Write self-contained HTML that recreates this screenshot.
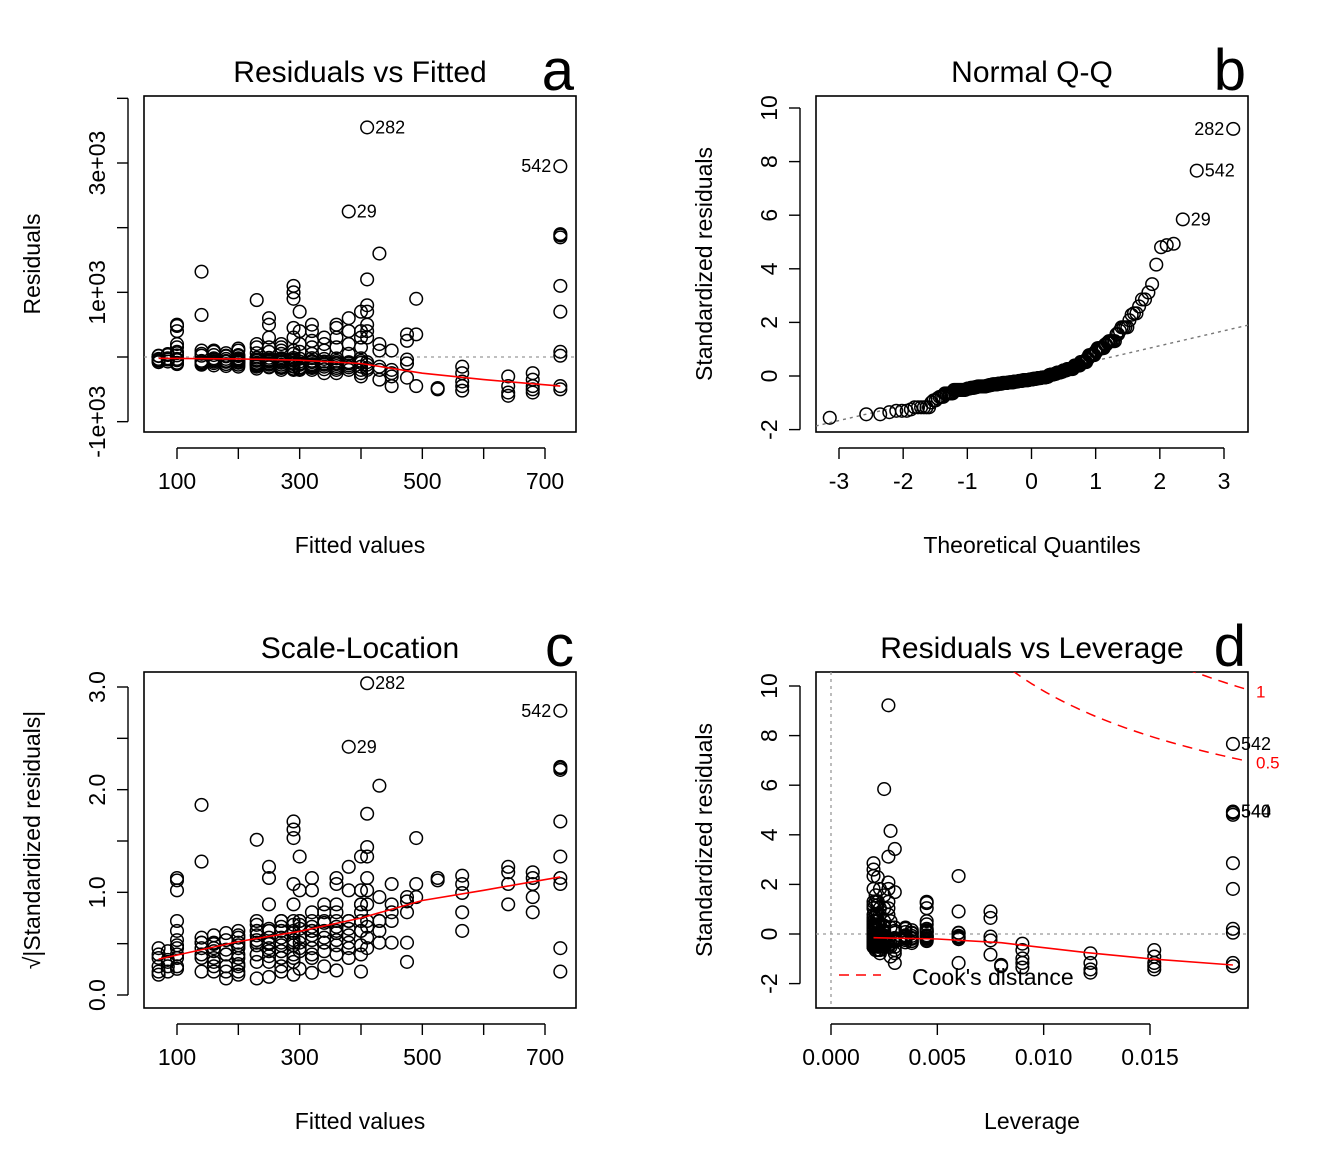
<!DOCTYPE html>
<html><head><meta charset="utf-8">
<style>
html,body{margin:0;padding:0;background:#fff;}
svg{display:block;font-family:"Liberation Sans",Arial,sans-serif;}
</style></head>
<body>
<svg id="chart" width="1344" height="1152" viewBox="0 0 1344 1152" xmlns="http://www.w3.org/2000/svg"></svg>
<script>
// ---- data ----
const groupFitted   = [70, 85, 100, 140, 160, 180, 200, 230, 250, 270, 290, 300, 320, 340, 360, 380, 400, 410, 430, 450, 475, 490, 525, 565, 640, 680, 725];
const groupLeverage = [0.006, 0.0045, 0.0045, 0.003, 0.0035, 0.0038, 0.0025, 0.0022, 0.0021, 0.002, 0.002, 0.002, 0.002, 0.0021, 0.0022, 0.0025, 0.0023, 0.0027, 0.0028, 0.003, 0.0075, 0.006, 0.008, 0.009, 0.0122, 0.0152, 0.0189];
const groupResiduals = [
 [-50,-80,20,15,-30,-60],
 [-40,30,-20,-70,45],
 [480,500,400,200,150,80,-30,-50,25,60,-90,-110],
 [1320,650,100,-60,-100,50,20,-120,-80],
 [100,80,-20,-70,30,-50,-130,-95,-40],
 [20,-30,-60,60,10,-110,-140,-75],
 [130,100,-80,-50,15,30,-20,-120,-150,-90,-60,-35],
 [880,200,150,-150,-100,60,-10,-130,-90,-60,-40,-180,-110],
 [600,500,300,150,-100,-150,-12,80,-70,-120,-40,-160,-95,-55],
 [200,150,100,-200,-150,50,-20,-50,-120,-90,-170,-70,-30],
 [1000,1100,900,450,300,100,-200,-150,-15,50,-110,-60,-180,-90,-140,-40],
 [700,400,200,-200,-180,80,-25,-120,-70,-160,-100],
 [500,400,250,150,-200,-150,-18,50,-80,-130,-60,-110,-170],
 [300,200,-250,-100,100,-30,-150,-70,-190,-120],
 [500,450,300,150,-250,-200,-22,-90,-140,-60,-170,-110],
 [2250,600,400,200,-200,-100,50,-160,-80,-130],
 [700,400,300,150,-300,-200,-20,-90,-150,-60,-250],
 [3550,1200,800,700,500,400,300,-200,-120,-170,-80],
 [1600,200,-200,-350,100,-150],
 [100,-200,-450,-300,-250],
 [350,250,-40,-100,-320],
 [900,350,-450],
 [-500,-480],
 [-150,-250,-380,-450,-520],
 [-300,-450,-550,-600],
 [-250,-350,-450,-500,-550],
 [2950,1900,1880,1850,1100,700,80,20,-450,-500]
];
const residualSD = 385;
const labeled = [{g:17,i:0,name:"282"},{g:26,i:0,name:"542"},{g:15,i:0,name:"29"}];
const smoothA_x = [70,200,300,400,500,600,725];
const smoothA_y = [-20,-30,-50,-100,-250,-350,-450];
const smoothC_x = [70,200,300,400,500,600,725];
const smoothC_y = [0.35,0.52,0.62,0.75,0.92,1.02,1.15];
const smoothD_x = [0.002,0.005,0.008,0.012,0.015,0.0189];
const smoothD_y = [-0.15,-0.2,-0.35,-0.75,-1.0,-1.25];
const cookLevels = [0.5, 1];
const cookP = 1.94;

// ---- helpers ----
const svg = document.getElementById('chart');
const NS = 'http://www.w3.org/2000/svg';
function mk(tag, attrs, parent){const e=document.createElementNS(NS,tag);for(const k in attrs)e.setAttribute(k,attrs[k]);(parent||svg).appendChild(e);return e;}
function txt(s, attrs, parent){const e=mk('text',attrs,parent);e.textContent=s;return e;}
function lin(d0,d1,r0,r1){return v=>r0+(v-d0)*(r1-r0)/(d1-d0);}

const pts=[];
groupFitted.forEach((f,g)=>groupResiduals[g].forEach((r,i)=>pts.push({f, r, h:groupLeverage[g], s:r/residualSD, g, i})));

function panel(name, box, title, letter, xlab, ylab){
  const g=mk('g',{});
  
  
  const r=mk('rect',{x:box.x0,y:box.y0,width:box.x1-box.x0,height:box.y1-box.y0,fill:'none',stroke:'#000','stroke-width':1.6},g);
  
  const t=txt(title,{x:(box.x0+box.x1)/2,y:box.y0-14,'text-anchor':'middle','font-size':30},g);
  
  const l=txt(letter,{x:box.x1-2,y:box.y0-6,'text-anchor':'end','font-size':58},g);
  
  const xl=txt(xlab,{x:(box.x0+box.x1)/2,y:box.y1+121,'text-anchor':'middle','font-size':23},g);
  
  const cy=(box.y0+box.y1)/2;
  const yl=txt(ylab,{x:box.x0-104,y:cy,'text-anchor':'middle','font-size':23,transform:`rotate(-90 ${box.x0-104} ${cy})`},g);
  
  return g;
}
function xAxis(g,box,sx,ticks,labels){
  const y=box.y1+16;
  const a=mk('line',{x1:sx(ticks[0]),x2:sx(ticks[ticks.length-1]),y1:y,y2:y,stroke:'#000','stroke-width':1.4},g);
  
  ticks.forEach((t,i)=>{mk('line',{x1:sx(t),x2:sx(t),y1:y,y2:y+11,stroke:'#000','stroke-width':1.4},g);
    if(labels[i]!==''){const e=txt(labels[i],{x:sx(t),y:box.y1+57,'text-anchor':'middle','font-size':23},g);
    }});
}
function yAxis(g,box,sy,ticks,labels){
  const x=box.x0-16;
  const a=mk('line',{y1:sy(ticks[0]),y2:sy(ticks[ticks.length-1]),x1:x,x2:x,stroke:'#000','stroke-width':1.4},g);
  
  ticks.forEach((t,i)=>{mk('line',{y1:sy(t),y2:sy(t),x1:x,x2:x-11,stroke:'#000','stroke-width':1.4},g);
    if(labels[i]!==''){const X=box.x0-39,Y=sy(t);const e=txt(labels[i],{x:X,y:Y,'text-anchor':'middle','font-size':23,transform:`rotate(-90 ${X} ${Y})`},g);
    }});
}
function clipFor(id,box){const c=mk('clipPath',{id});mk('rect',{x:box.x0,y:box.y0,width:box.x1-box.x0,height:box.y1-box.y0},c);return `url(#${id})`;}
function point(g,x,y){const c=mk('circle',{cx:x,cy:y,r:6.3,fill:'none',stroke:'#000','stroke-width':1.5},g);
  }
function pathFrom(xs,ys,sx,sy){return xs.map((x,i)=>(i?'L':'M')+sx(x).toFixed(1)+','+sy(ys[i]).toFixed(1)).join('');}
function label(g,x,y,s,anchor){const e=txt(s,{x,y:y+6,'font-size':18,'text-anchor':anchor||'start'},g);
  }

// ---- panel a ----
(function(){
  const box={x0:144,y0:96,x1:576,y1:432};
  const sx=lin(100,700,177,545), sy=lin(0,3000,357,163);
  const g=panel('panel-residuals-vs-fitted',box,'Residuals vs Fitted','a','Fitted values','Residuals');
  xAxis(g,box,sx,[100,200,300,400,500,600,700],['100','','300','','500','','700']);
  yAxis(g,box,sy,[-1000,0,1000,2000,3000,4000],['-1e+03','','1e+03','','3e+03','']);
  const cp=clipFor('ca',box);
  const h=mk('line',{x1:box.x0,x2:box.x1,y1:sy(0),y2:sy(0),stroke:'#999','stroke-dasharray':'3,4','stroke-width':1.3,'clip-path':cp},g);
  
  pts.forEach(p=>point(g,sx(p.f),sy(p.r)));
  const sm=mk('path',{d:pathFrom(smoothA_x,smoothA_y,sx,sy),fill:'none',stroke:'#f00','stroke-width':1.6},g);
  
  labeled.forEach(L=>{const f=groupFitted[L.g],r=groupResiduals[L.g][L.i];
    if(f>700) label(g,sx(f)-9,sy(r),L.name,'end'); else label(g,sx(f)+8,sy(r),L.name);});
})();

// ---- panel b ----
function qnorm(p){const a=[-39.69683028665376,220.9460984245205,-275.9285104469687,138.357751867269,-30.66479806614716,2.506628277459239],
 b=[-54.47609879822406,161.5858368580409,-155.6989798598866,66.80131188771972,-13.28068155288572],
 c=[-0.007784894002430293,-0.3223964580411365,-2.400758277161838,-2.549732539343734,4.374664141464968,2.938163982698783],
 d=[0.007784695709041462,0.3224671290700398,2.445134137142996,3.754408661907416];
 let q,r;if(p<0.02425){q=Math.sqrt(-2*Math.log(p));return (((((c[0]*q+c[1])*q+c[2])*q+c[3])*q+c[4])*q+c[5])/((((d[0]*q+d[1])*q+d[2])*q+d[3])*q+1);}
 if(p>1-0.02425){q=Math.sqrt(-2*Math.log(1-p));return -(((((c[0]*q+c[1])*q+c[2])*q+c[3])*q+c[4])*q+c[5])/((((d[0]*q+d[1])*q+d[2])*q+d[3])*q+1);}
 q=p-0.5;r=q*q;return (((((a[0]*r+a[1])*r+a[2])*r+a[3])*r+a[4])*r+a[5])*q/(((((b[0]*r+b[1])*r+b[2])*r+b[3])*r+b[4])*r+1);}
(function(){
  const box={x0:816,y0:96,x1:1248,y1:432};
  const sx=lin(-3,3,839,1224), sy=lin(0,10,376,108);
  const g=panel('panel-normal-qq',box,'Normal Q-Q','b','Theoretical Quantiles','Standardized residuals');
  xAxis(g,box,sx,[-3,-2,-1,0,1,2,3],['-3','-2','-1','0','1','2','3']);
  yAxis(g,box,sy,[-2,0,2,4,6,8,10],['-2','0','2','4','6','8','10']);
  const cp=clipFor('cb',box);
  const sorted=pts.slice().sort((a,b)=>a.s-b.s), n=sorted.length;
  // plotting positions scaled to the full sample size of the original model
  const nFull=600;
  const q1=sorted[Math.floor(n*0.25)].s, q3=sorted[Math.floor(n*0.75)].s, z=qnorm(0.75);
  const slope=(q3-q1)/(2*z), icpt=(q1+q3)/2;
  const ref=mk('line',{x1:sx(-4),y1:sy(icpt-4*slope),x2:sx(4),y2:sy(icpt+4*slope),stroke:'#777','stroke-dasharray':'3,4','stroke-width':1.4,'clip-path':cp},g);
  
  sorted.forEach((p,i)=>{const u=(i+0.5)/n;const pr=u<0.5? (0.5/nFull)+(u-0.5/n)*(0.5-0.5/nFull)/(0.5-0.5/n) : 1-((0.5/nFull)+((1-u)-0.5/n)*(0.5-0.5/nFull)/(0.5-0.5/n));
    p.q=qnorm(pr);point(g,sx(p.q),sy(p.s));});
  labeled.forEach(L=>{const p=sorted.find(o=>o.g===L.g&&o.i===L.i);
    if(L.name==='282') label(g,sx(p.q)-9,sy(p.s),L.name,'end'); else label(g,sx(p.q)+8,sy(p.s),L.name);});
})();

// ---- panel c ----
(function(){
  const box={x0:144,y0:672,x1:576,y1:1008};
  const sx=lin(100,700,177,545), sy=lin(0,3,995,687);
  const g=panel('panel-scale-location',box,'Scale-Location','c','Fitted values','\u221A|Standardized residuals|');
  xAxis(g,box,sx,[100,200,300,400,500,600,700],['100','','300','','500','','700']);
  yAxis(g,box,sy,[0,0.5,1,1.5,2,2.5,3],['0.0','','1.0','','2.0','','3.0']);
  pts.forEach(p=>point(g,sx(p.f),sy(Math.sqrt(Math.abs(p.s)))));
  const sm=mk('path',{d:pathFrom(smoothC_x,smoothC_y,sx,sy),fill:'none',stroke:'#f00','stroke-width':1.6},g);
  
  labeled.forEach(L=>{const f=groupFitted[L.g],v=Math.sqrt(Math.abs(groupResiduals[L.g][L.i]/residualSD));
    if(f>700) label(g,sx(f)-9,sy(v),L.name,'end'); else label(g,sx(f)+8,sy(v),L.name);});
})();

// ---- panel d ----
(function(){
  const box={x0:816,y0:672,x1:1248,y1:1008};
  const sx=lin(0,0.015,831,1150), sy=lin(0,10,934,686);
  const g=panel('panel-residuals-vs-leverage',box,'Residuals vs Leverage','d','Leverage','Standardized residuals');
  xAxis(g,box,sx,[0,0.005,0.01,0.015],['0.000','0.005','0.010','0.015']);
  yAxis(g,box,sy,[-2,0,2,4,6,8,10],['-2','0','2','4','6','8','10']);
  const cp=clipFor('cd',box);
  const h=mk('line',{x1:box.x0,x2:box.x1,y1:sy(0),y2:sy(0),stroke:'#999','stroke-dasharray':'3,4','stroke-width':1.3,'clip-path':cp},g);
  
  const v=mk('line',{x1:sx(0),x2:sx(0),y1:box.y0,y2:box.y1,stroke:'#999','stroke-dasharray':'3,4','stroke-width':1.3},g);
  
  pts.forEach(p=>point(g,sx(p.h),sy(p.s)));
  const sm=mk('path',{d:pathFrom(smoothD_x,smoothD_y,sx,sy),fill:'none',stroke:'#f00','stroke-width':1.6},g);
  
  cookLevels.forEach(c=>{
    const hs=[];for(let k=0;k<=80;k++)hs.push(0.003+k*(0.0197-0.003)/80);
    const ys=hs.map(hh=>Math.sqrt(c*cookP*(1-hh)/hh));
    const p=mk('path',{d:pathFrom(hs,ys,sx,sy),fill:'none',stroke:'#f00','stroke-width':1.5,'stroke-dasharray':'10,7','clip-path':cp},g);
    
    const hl=0.0197,yl=Math.sqrt(c*cookP*(1-hl)/hl);
    const t=txt(String(c),{x:box.x1+8,y:sy(yl)+7,'font-size':17,fill:'#f00'},g);
    
  });
  const lg=mk('line',{x1:839,x2:881,y1:975,y2:975,stroke:'#f00','stroke-width':1.5,'stroke-dasharray':'10,7'},g);
  
  const lt=txt("Cook's distance",{x:912,y:985,'font-size':23},g);
  
  const p542=pts.find(o=>o.g===26&&o.i===0);
  label(g,sx(p542.h)+8,sy(p542.s),'542');
  const p540=pts.find(o=>o.g===26&&o.i===1);
  label(g,sx(p540.h)+8,sy(p540.s),'540');
  label(g,sx(p540.h)+8,sy(p540.s),'544');
})();
</script>
</body></html>
